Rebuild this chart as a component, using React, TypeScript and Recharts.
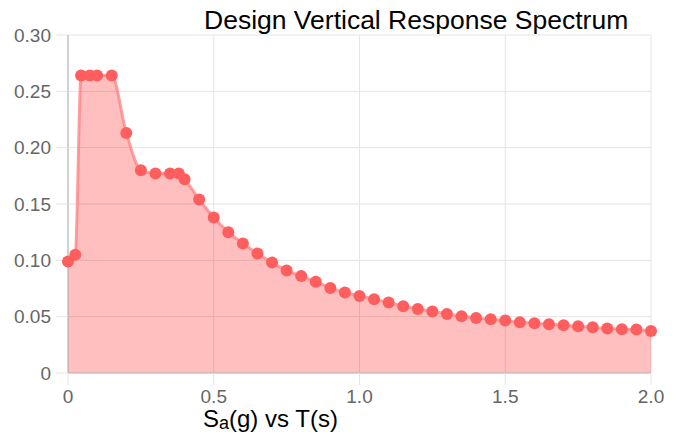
import React from "react";
import { AreaChart, Area, XAxis, YAxis, CartesianGrid } from "recharts";

const periods = [
  0, 0.025, 0.045, 0.075, 0.1, 0.15, 0.2, 0.25, 0.3, 0.35, 0.38, 0.4, 0.45,
  0.5, 0.55, 0.6, 0.65, 0.7, 0.75, 0.8, 0.85, 0.9, 0.95, 1.0, 1.05, 1.1, 1.15,
  1.2, 1.25, 1.3, 1.35, 1.4, 1.45, 1.5, 1.55, 1.6, 1.65, 1.7, 1.75, 1.8, 1.85,
  1.9, 1.95, 2.0,
];

const sa = [
  0.099, 0.105, 0.264, 0.264, 0.264, 0.264, 0.213, 0.18, 0.177, 0.177, 0.177,
  0.172, 0.154, 0.138, 0.125, 0.115, 0.106, 0.098, 0.091, 0.086, 0.081, 0.0755,
  0.0714, 0.0684, 0.0655, 0.0625, 0.0593, 0.0569, 0.0545, 0.0524, 0.0504,
  0.0489, 0.0477, 0.0465, 0.045, 0.0441, 0.0433, 0.0424, 0.0415, 0.0406,
  0.0394, 0.0388, 0.0386, 0.0373,
];

const xTicks = [0, 0.5, 1, 1.5, 2];
const yTicks = [0, 0.05, 0.1, 0.15, 0.2, 0.25, 0.3];

const title = "Design Vertical Response Spectrum";

const data = periods.map((t, i) => ({ t, sa: sa[i] }));

const font = "'Liberation Sans', Arial, sans-serif";
const tickStyle = { fill: "#666", fontSize: 19, fontFamily: font };

const fmtX = (v: number) => (v === 0 ? "0" : v.toFixed(1));
const fmtY = (v: number) => (v === 0 ? "0" : v.toFixed(2));

export default function App() {
  return (
    <div style={{ position: "absolute", left: 0, top: 0, width: 679, height: 434 }}>
      <AreaChart
        width={679}
        height={434}
        data={data}
        margin={{ top: 35, right: 28, bottom: 0, left: 0 }}
      >
        <CartesianGrid stroke="#e5e5e5" strokeWidth={1} />
        <XAxis
          dataKey="t"
          type="number"
          domain={[0, 2]}
          ticks={xTicks}
          tickFormatter={fmtX}
          tick={tickStyle}
          height={61}
          tickSize={12}
          tickMargin={5}
          axisLine={{ stroke: "#bbb" }}
          tickLine={{ stroke: "#e5e5e5" }}
          interval={0}
        />
        <YAxis
          type="number"
          domain={[0, 0.3]}
          ticks={yTicks}
          tickFormatter={fmtY}
          tick={tickStyle}
          width={68}
          tickSize={12}
          tickMargin={5}
          axisLine={{ stroke: "#b0b0b0" }}
          tickLine={{ stroke: "#e5e5e5" }}
          interval={0}
        />
        <Area
          type="monotone"
          dataKey="sa"
          stroke="#ff8080"
          strokeOpacity={0.75}
          strokeWidth={3}
          fill="#ff0000"
          fillOpacity={0.25}
          dot={{ r: 6, fill: "#ff5e5e", fillOpacity: 1, stroke: "none" }}
          activeDot={false}
          isAnimationActive={false}
        />
      </AreaChart>
      <svg
        width={679}
        height={434}
        style={{ position: "absolute", left: 0, top: 0, pointerEvents: "none" }}
      >
        <text x={204} y={29} fontSize={26.5} fontFamily={font} fill="#000">
          {title}
        </text>
        <text x={203} y={427} fontSize={24} fontFamily={font} fill="#000">
          S
          <tspan fontSize={18} dy={2}>
            a
          </tspan>
          <tspan dy={-2}>(g) vs T(s)</tspan>
        </text>
      </svg>
    </div>
  );
}
